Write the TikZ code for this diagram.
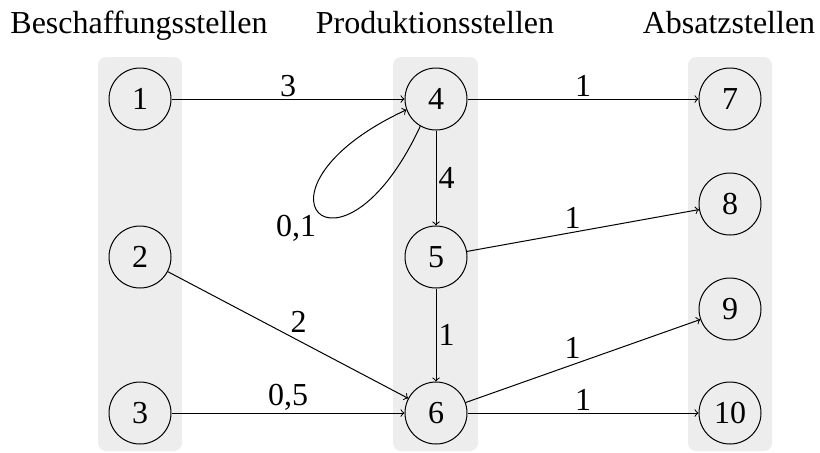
\documentclass[tikz,border=0pt]{standalone}
\usepackage{fontspec}
\setmainfont{Liberation Serif}
\definecolor{panelgray}{HTML}{EDEDED}
\begin{document}
\begin{tikzpicture}[x=0.5pt,y=-0.5pt,
  font=\fontsize{16}{19}\selectfont,
  panel/.style={fill=panelgray, rounded corners=4pt},
  stelle/.style={draw, circle, minimum size=31pt, inner sep=0pt, line width=0.5pt},
  edge/.style={->, line width=0.5pt},
  lab/.style={inner sep=1pt},
  title/.style={anchor=base, inner sep=0pt}]
\useasboundingbox (0,0) rectangle (820,452);
\fill[panel] (98,57) rectangle (182,451);
\fill[panel] (393,57) rectangle (478,451);
\fill[panel] (688,57) rectangle (772,451);
\node[title] (t1) at (139,33) {Beschaffungsstellen};
\node[title] (t2) at (435,33) {Produktionsstellen};
\node[title] (t3) at (729,33) {Absatzstellen};
\node[stelle] (n1) at (140,99) {1};
\node[stelle] (n2) at (140,257) {2};
\node[stelle] (n3) at (140,413) {3};
\node[stelle] (n4) at (436,99) {4};
\node[stelle] (n5) at (436,257) {5};
\node[stelle] (n6) at (436,413) {6};
\node[stelle] (n7) at (730,99) {7};
\node[stelle] (n8) at (730,204) {8};
\node[stelle] (n9) at (730,309) {9};
\node[stelle] (n10) at (730,413) {10};
\draw[edge] (n1) -- node[lab,above]{3} (n4);
\draw[edge] (n4) -- node[lab,above]{1} (n7);
\draw[edge] (n4) -- node[lab,right]{4} (n5);
\draw[edge] (n5) -- node[lab,anchor=south east]{1} (n8);
\draw[edge] (n5) -- node[lab,right]{1} (n6);
\draw[edge] (n2) -- node[lab,anchor=south west]{2} (n6);
\draw[edge] (n3) -- node[lab,above]{0,5} (n6);
\draw[edge] (n6) -- node[lab,anchor=south east]{1} (n9);
\draw[edge] (n6) -- node[lab,above]{1} (n10);
\draw[edge] (n4.240) .. controls +(245:95pt) and +(205:95pt) .. node[lab,anchor=north east]{0,1} (n4.200);
\end{tikzpicture}
\end{document}
